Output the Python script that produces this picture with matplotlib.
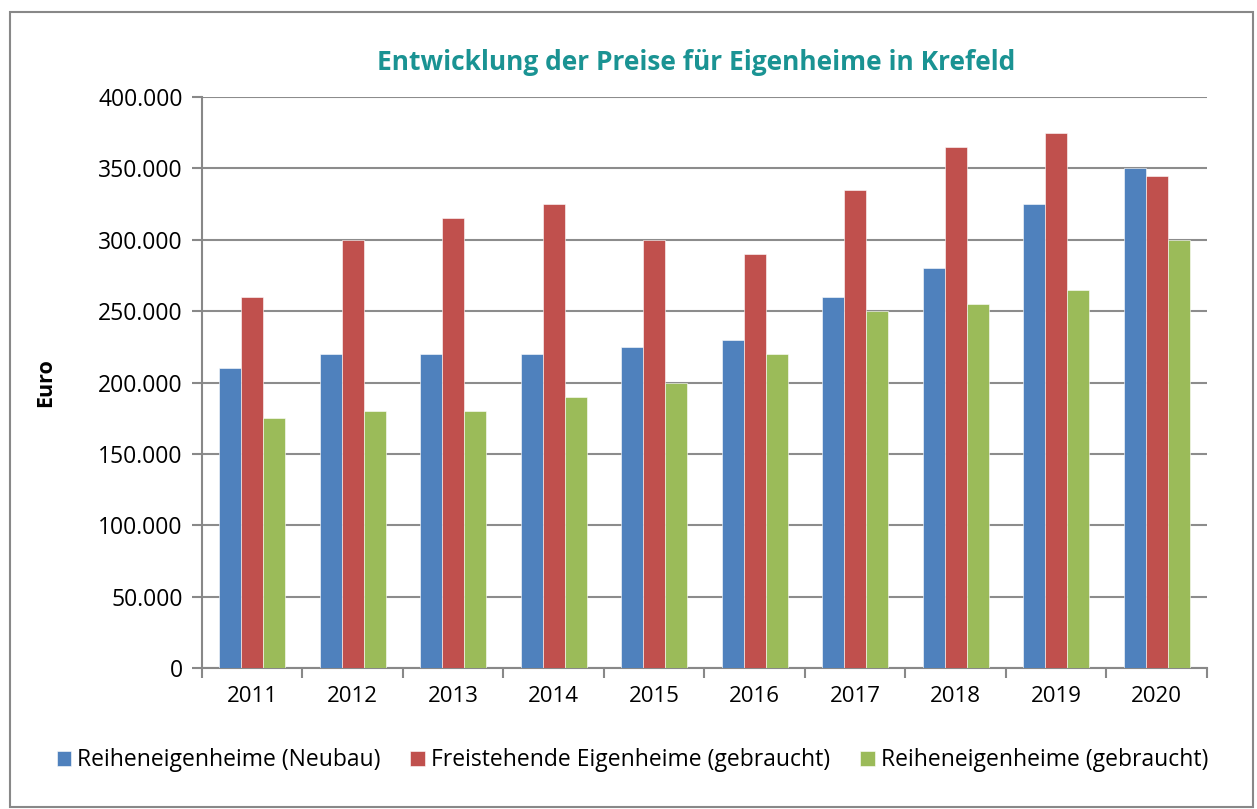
import matplotlib
matplotlib.use("Agg")

import matplotlib.pyplot as plt
import matplotlib.patches as mpatches
import numpy as np
from matplotlib.ticker import FuncFormatter

years = ["2011", "2012", "2013", "2014", "2015", "2016", "2017", "2018", "2019", "2020"]
neubau = [210000, 220000, 220000, 220000, 225000, 230000, 260000, 280000, 325000, 350000]
freistehend = [260000, 300000, 315000, 325000, 300000, 290000, 335000, 365000, 375000, 345000]
gebraucht = [175000, 180000, 180000, 190000, 200000, 220000, 250000, 255000, 265000, 300000]
series_names = ["Reiheneigenheime (Neubau)", "Freistehende Eigenheime (gebraucht)",
                "Reiheneigenheime (gebraucht)"]
colors = ["#4F81BD", "#C0504D", "#9BBB59"]

plt.rcParams["font.family"] = ["Open Sans", "DejaVu Sans"]

fig = plt.figure(figsize=(12.57, 8.09), dpi=100)
ax = fig.add_axes([0.1607, 0.1743, 0.7995, 0.7057])

# outer chart frame
fig.patches.append(mpatches.Rectangle((10 / 1257, 2 / 809), 1243 / 1257, 795 / 809,
                                      transform=fig.transFigure, fill=False,
                                      edgecolor="#888888", linewidth=1.5))

x = np.arange(len(years))
w = 0.22
for i, (vals, col, name) in enumerate(zip([neubau, freistehend, gebraucht], colors, series_names)):
    ax.bar(x + (i - 1) * w, vals, width=w, color=col, label=name, zorder=3,
           edgecolor="white", linewidth=0.4)

ax.set_xlim(-0.5, len(years) - 0.5)
ax.set_ylim(0, 400000)
ax.set_yticks(np.arange(0, 400001, 50000))
ax.yaxis.set_major_formatter(FuncFormatter(lambda v, p: f"{int(v):,}".replace(",", ".")))
ax.set_xticks(x)
ax.set_xticklabels(years)
ax.set_xticks(np.arange(-0.5, len(years)), minor=True)
ax.tick_params(axis="x", which="major", length=0, pad=13, labelsize=16)
ax.tick_params(axis="x", which="minor", length=7, width=1.5, color="#888888", direction="out")
ax.tick_params(axis="y", length=7, width=1.5, color="#888888", labelsize=16.5, pad=7)

ax.grid(axis="y", color="#8c8c8c", linewidth=1.5, zorder=0)
ax.set_axisbelow(True)
for s in ["top", "right"]:
    ax.spines[s].set_visible(False)
for s in ["left", "bottom"]:
    ax.spines[s].set_color("#888888")
    ax.spines[s].set_linewidth(1.5)

ax.set_ylabel("Euro", fontsize=15.5, fontweight="bold", labelpad=30)
fig.text(0.5537, 0.923, "Entwicklung der Preise für Eigenheime in Krefeld", ha="center",
         va="center", fontsize=19, fontweight="bold", color="#1A9393")

fig.legend(loc="center", bbox_to_anchor=(0.503, 0.06), ncol=3, frameon=False, fontsize=16.5,
           handlelength=0.65, handleheight=0.65, handletextpad=0.25, columnspacing=1.3)

fig.savefig("out.png", dpi=100)
